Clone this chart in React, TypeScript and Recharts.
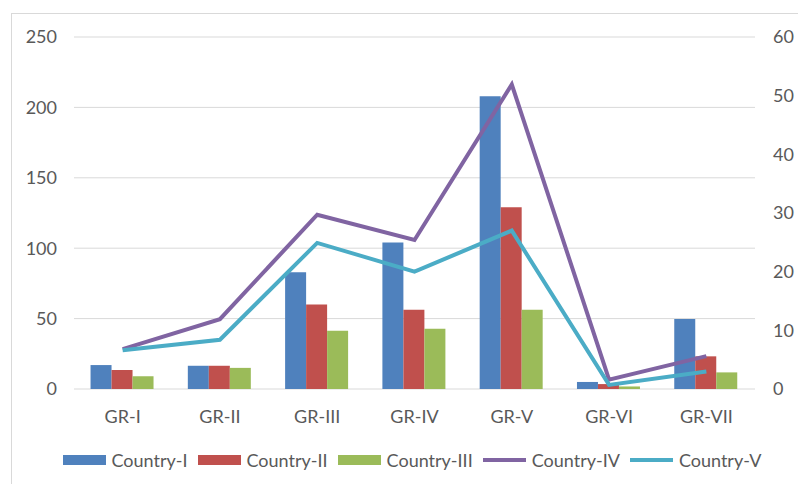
import {
  Bar,
  CartesianGrid,
  ComposedChart,
  Legend,
  Line,
  XAxis,
  YAxis,
} from 'recharts'

const groups = ['GR-I', 'GR-II', 'GR-III', 'GR-IV', 'GR-V', 'GR-VI', 'GR-VII']
const countryI = [17, 16.5, 83, 104, 208, 5, 49.7]
const countryII = [13.5, 16.5, 60, 56.3, 129, 3.5, 23.2]
const countryIII = [9, 15, 41.4, 42.8, 56.3, 1.8, 11.8]
const countryIV = [6.8, 11.9, 29.7, 25.4, 51.9, 1.6, 5.6]
const countryV = [6.6, 8.4, 24.9, 20, 27, 0.7, 3]
const leftTicks = [0, 50, 100, 150, 200, 250]
const rightTicks = [0, 10, 20, 30, 40, 50, 60]

const data = groups.map((g, i) => ({
  name: g,
  c1: countryI[i],
  c2: countryII[i],
  c3: countryIII[i],
  c4: countryIV[i],
  c5: countryV[i],
}))

const textColor = '#595959'
const font = 'Lato, "Open Sans", sans-serif'

function LegendContent(props: any) {
  const items = (props.payload || []) as any[]
  return (
    <div
      style={{
        display: 'flex',
        justifyContent: 'center',
        alignItems: 'center',
        gap: 10,
        height: 30,
        width: 800,
        fontFamily: font,
        fontSize: 18,
        color: textColor,
        whiteSpace: 'nowrap',
      }}
    >
      {items.map((it) => (
        <div key={it.value} style={{ display: 'flex', alignItems: 'center', flexShrink: 0 }}>
          <svg width={43} height={12} style={{ marginRight: 6 }}>
            {it.type === 'line' ? (
              <line x1={0} x2={43} y1={6} y2={6} stroke={it.color} strokeWidth={4} />
            ) : (
              <rect x={0} y={1} width={43} height={10} fill={it.color} />
            )}
          </svg>
          <span>{it.value}</span>
        </div>
      ))}
    </div>
  )
}

export default function App() {
  return (
    <div
      style={{
        position: 'fixed',
        left: 11,
        top: 13,
        width: 800,
        height: 480,
        border: '1px solid #d9d9d9',
        background: '#fff',
      }}
    >
      <ComposedChart
        width={800}
        height={470}
        data={data}
        margin={{ top: 23, right: 0, bottom: 9, left: 0 }}
        barCategoryGap='17%'
        barGap={0}
      >
        <CartesianGrid yAxisId='left' vertical={false} stroke='#d9d9d9' />
        <XAxis
          dataKey='name'
          axisLine={false}
          tickLine={false}
          tickSize={0}
          tickMargin={21}
          height={56}
          tick={{ fill: textColor, fontSize: 18, fontFamily: font }}
        />
        <YAxis
          yAxisId='left'
          domain={[0, 250]}
          ticks={leftTicks}
          width={62}
          axisLine={false}
          tickLine={false}
          tickSize={0}
          tickMargin={17}
          tick={{ fill: textColor, fontSize: 18, fontFamily: font }}
        />
        <YAxis
          yAxisId='right'
          orientation='right'
          domain={[0, 60]}
          ticks={rightTicks}
          width={57}
          axisLine={false}
          tickLine={false}
          tickSize={0}
          tickMargin={18}
          tick={{ fill: textColor, fontSize: 18, fontFamily: font }}
        />
        <Legend
          verticalAlign='bottom'
          height={30}
          wrapperStyle={{ width: 800, left: 0 }}
          content={<LegendContent />}
        />
        <Bar yAxisId='left' dataKey='c1' name='Country-I' fill='#4f81bd' isAnimationActive={false} />
        <Bar yAxisId='left' dataKey='c2' name='Country-II' fill='#c0504d' isAnimationActive={false} />
        <Bar yAxisId='left' dataKey='c3' name='Country-III' fill='#9bbb59' isAnimationActive={false} />
        <Line
          yAxisId='right'
          dataKey='c4'
          name='Country-IV'
          type='linear'
          stroke='#8064a2'
          strokeWidth={4}
          dot={false}
          legendType='line'
          isAnimationActive={false}
        />
        <Line
          yAxisId='right'
          dataKey='c5'
          name='Country-V'
          type='linear'
          stroke='#4bacc6'
          strokeWidth={4}
          dot={false}
          legendType='line'
          isAnimationActive={false}
        />
      </ComposedChart>
    </div>
  )
}
